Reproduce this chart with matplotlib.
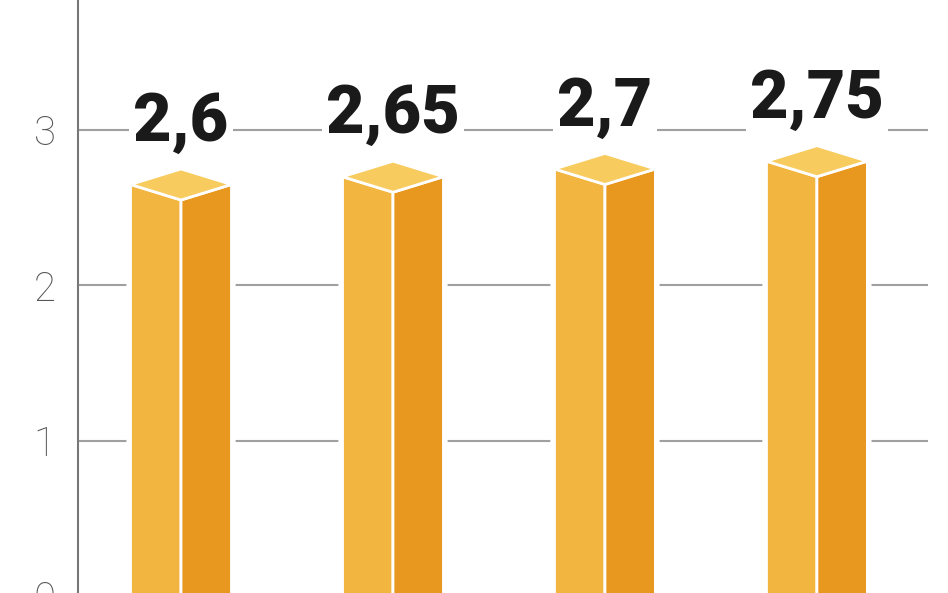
import matplotlib.pyplot as plt
from matplotlib.patches import Polygon

# dados
valores = [2.6, 2.65, 2.7, 2.75]
rotulos = ['2,6', '2,65', '2,7', '2,75']
marcas_y = [0, 1, 2, 3]

cor_esq = '#F2B53F'
cor_dir = '#E8971F'
cor_topo = '#F7CB5E'

fig = plt.figure(figsize=(9.48, 5.93), dpi=100)
ax = fig.add_axes([78 / 948, -3 / 593, 850 / 948, 596 / 593])
ax.set_xlim(-0.486, 3.524)
ax.set_ylim(0, 3.838)

meia = 0.238   # meia largura da barra
prof = 0.1     # profundidade do topo

for i, v in enumerate(valores):
    topo = v + 0.05
    contorno = [(i - meia, 0), (i - meia, topo), (i, topo + prof),
                (i + meia, topo), (i + meia, 0)]
    esq = [(i - meia, 0), (i - meia, topo), (i, topo - prof), (i, 0)]
    dir_ = [(i, 0), (i, topo - prof), (i + meia, topo), (i + meia, 0)]
    cima = [(i - meia, topo), (i, topo + prof), (i + meia, topo), (i, topo - prof)]
    ax.add_patch(Polygon(contorno, closed=True, fc='white', ec='white', lw=6, zorder=2))
    ax.add_patch(Polygon(esq, closed=True, fc=cor_esq, ec='white', lw=2, zorder=3))
    ax.add_patch(Polygon(dir_, closed=True, fc=cor_dir, ec='white', lw=2, zorder=3))
    ax.add_patch(Polygon(cima, closed=True, fc=cor_topo, ec='white', lw=2, zorder=3))
    ax.text(i, v + 0.33, rotulos[i], ha='center', va='baseline', fontsize=48,
            fontweight='black', family='Roboto', color='#1a1a1a', zorder=4,
            bbox=dict(fc='white', ec='none', pad=3))

ax.set_yticks(marcas_y)
ax.set_yticklabels([str(m) for m in marcas_y], family='Roboto', fontweight='light')
ax.set_xticks([])
ax.tick_params(axis='y', length=0, labelsize=29, labelcolor='#555555', pad=16)
ax.yaxis.grid(True, color='#a0a0a0', linewidth=1.5)
ax.set_axisbelow(True)

for lado in ['top', 'right', 'bottom']:
    ax.spines[lado].set_visible(False)
ax.spines['left'].set_color('#777777')
ax.spines['left'].set_linewidth(1.5)

plt.savefig('out.png', dpi=100)
